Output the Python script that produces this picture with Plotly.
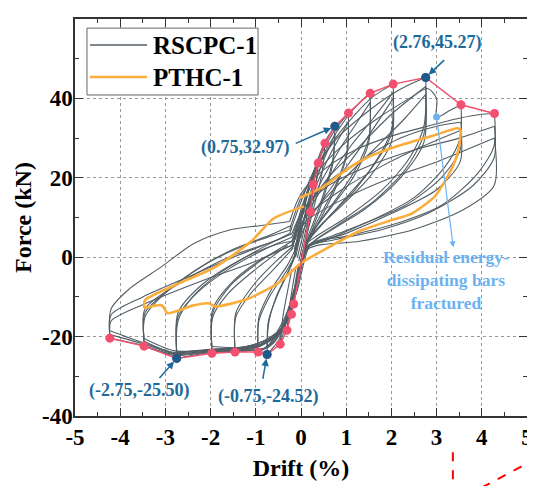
import plotly.graph_objects as go

FONT = "Liberation Serif"

# ---------------- data ----------------
# axis ticks
x_tick_vals = [-5, -4, -3, -2, -1, 0, 1, 2, 3, 4, 5]
x_tick_text = ["-5", "-4", "-3", "-2", "-1", "0", "1", "2", "3", "4", "5"]
y_tick_vals = [-40, -20, 0, 20, 40, 60]
y_tick_text = ["-40", "-20", "0", "20", "40", "60"]

# skeleton (envelope) curve of RSCPC-1
env_x = [-4.23, -3.47, -2.75, -1.97, -1.46, -0.95, -0.75, -0.46, -0.31, -0.21, -0.16,
         0.21, 0.27, 0.38, 0.53, 0.75, 1.05, 1.53, 2.04, 2.76, 3.54, 4.28]
env_y = [-20.4, -22.4, -25.50, -24.2, -23.9, -23.9, -24.52, -21.9, -18.4, -14.4, -11.8,
         11.4, 18.3, 23.7, 28.7, 32.97, 36.3, 41.3, 43.6, 45.27, 38.4, 36.2]

# highlighted characteristic points
key_x = [0.75, 2.76, -2.75, -0.75]
key_y = [32.97, 45.27, -25.50, -24.52]
key_labels = ["(0.75,32.97)", "(2.76,45.27)", "(-2.75,-25.50)", "(-0.75,-24.52)"]

# fracture point of residual energy-dissipating bars
frac_x = [3.0]
frac_y = [35.3]

# PTHC-1 hysteresis loop
pthc_x = [-0.04, 0.5, 1.0, 1.5, 2.2, 2.95, 3.45, 3.54, 3.5, 3.4, 3.2, 2.95, 2.45, 2.0, 1.3,
          0.5, 0.0, -0.5, -1.2, -1.9, -2.05, -2.4, -2.95, -3.08, -3.47, -3.45, -2.7, -1.9,
          -1.1, -0.6, 0.07]
pthc_y = [14.9, 17.8, 22.0, 25.3, 28.2, 30.7, 32.5, 32.2, 28.0, 24.0, 19.5, 15.2, 11.0, 9.3,
          6.6, 1.8, -1.5, -6.5, -10.6, -12.4, -11.6, -12.2, -14.1, -12.1, -12.8, -10.8, -6.6,
          -2.5, 4.0, 9.8, 12.8]

# RSCPC-1 hysteresis cycles (one list pair per cycle)
c01_x = [-0.05, 0.05, 0.14, 0.21, 0.17, 0.08, 0.0, -0.08, -0.16, -0.12, -0.05]
c01_y = [-1, 4, 8.5, 11.4, 8, 3, -1.5, -6.5, -11.8, -8, -2]
c02_x = [-0.08, 0.05, 0.17, 0.27, 0.22, 0.12, 0.02, -0.1, -0.21, -0.16, -0.06]
c02_y = [0, 6, 12.5, 18.3, 13, 6, 0, -7.5, -14.4, -9, -2]
c03_x = [-0.12, 0.02, 0.18, 0.38, 0.32, 0.18, 0.04, -0.12, -0.31, -0.25, -0.12]
c03_y = [0, 7, 15, 23.7, 17, 9, 1, -8, -18.4, -12, -3]
c04_x = [-0.15, 0.0, 0.2, 0.53, 0.46, 0.25, 0.05, -0.15, -0.46, -0.4, -0.2]
c04_y = [1, 9, 18, 28.7, 21, 11, 2, -9, -21.9, -15, -3]
c05_x = [-0.2, 0.0, 0.15, 0.35, 0.55, 0.75, 0.71, 0.5, 0.25, 0.08, -0.1, -0.3, -0.5, -0.75,
         -0.72, -0.55, -0.3, -0.12]
c05_y = [2, 10, 17, 24, 29.5, 32.97, 25, 16, 8, 3, -6, -15, -21, -24.52, -17, -10, -4, 1]
c06_x = [-0.15, 0.02, 0.2, 0.45, 0.75, 0.71, 0.5, 0.25, 0.06, -0.12, -0.35, -0.75, -0.72,
         -0.5, -0.25, -0.1]
c06_y = [1, 8, 15, 23, 31, 24, 15, 7, 2, -7, -15, -23, -16, -9, -3, 1]
c07_x = [-0.15, 0.02, 0.2, 0.45, 0.75, 1.05, 1.02, 0.8, 0.45, 0.15, -0.05, -0.3, -0.6, -0.95,
         -0.93, -0.7, -0.35, -0.15]
c07_y = [0, 10, 18, 26, 32, 36.3, 27, 19, 11, 4, -5, -15, -21.5, -23.9, -16, -10, -4, 0]
c08_x = [-0.12, 0.05, 0.3, 0.65, 1.05, 1.02, 0.75, 0.4, 0.12, -0.08, -0.35, -0.95, -0.93,
         -0.65, -0.3, -0.12]
c08_y = [1, 9, 17, 26, 34, 26, 17, 9, 3, -7, -17, -22.5, -15, -8, -2, 2]
c09_x = [-0.2, 0.0, 0.25, 0.6, 1.0, 1.3, 1.53, 1.5, 1.2, 0.8, 0.35, 0.1, -0.1, -0.35, -0.7,
         -1.1, -1.46, -1.44, -1.1, -0.6, -0.2]
c09_y = [2, 11, 20, 28, 35, 39, 41.3, 30, 22, 15, 8, 3, -7, -17, -22.5, -23.5, -23.9, -15,
         -9, -3, 2]
c10_x = [-0.15, 0.05, 0.4, 0.9, 1.3, 1.53, 1.5, 1.15, 0.7, 0.3, 0.08, -0.12, -0.45, -0.9,
         -1.46, -1.44, -1.05, -0.55, -0.15]
c10_y = [1, 9, 18, 28, 35, 39, 29, 20, 13, 7, 2, -8, -18, -22, -22.8, -14, -7, -1, 3]
c11_x = [-0.2, 0.0, 0.3, 0.7, 1.2, 1.6, 2.04, 2.0, 1.7, 1.2, 0.6, 0.15, -0.1, -0.4, -0.8,
         -1.4, -1.97, -1.95, -1.6, -1.0, -0.3]
c11_y = [3, 12, 21, 29, 36, 40.5, 43.6, 32, 25, 17, 10, 4, -7, -17.5, -22.8, -23.5, -24.2,
         -15, -9, -3, 3]
c12_x = [-0.15, 0.05, 0.5, 1.1, 1.6, 2.04, 2.0, 1.6, 1.0, 0.45, 0.1, -0.12, -0.5, -1.2,
         -1.97, -1.95, -1.55, -0.9, -0.2]
c12_y = [2, 9, 18, 28, 35, 41.5, 31, 23, 15, 8, 3, -8, -19, -22.5, -23.2, -14, -7, -1, 4]
c13_x = [-0.25, 0.0, 0.3, 0.8, 1.4, 2.0, 2.4, 2.76, 2.72, 2.4, 1.8, 1.0, 0.3, 0.1, -0.12,
         -0.4, -0.8, -1.5, -2.2, -2.75, -2.72, -2.4, -1.8, -1.0, -0.25]
c13_y = [6, 14, 22, 30, 36, 41, 43.5, 45.27, 33, 25, 17, 10, 5, 3, -8, -18, -23, -23.6,
         -24.3, -25.5, -16, -10, -4, 1.5, 6]
c14_x = [-0.2, 0.05, 0.6, 1.3, 2.0, 2.76, 2.72, 2.3, 1.6, 0.8, 0.2, -0.1, -0.5, -1.3, -2.1,
         -2.75, -2.72, -2.3, -1.6, -0.8, -0.2]
c14_y = [4, 11, 20, 28, 36, 43, 31, 22, 14, 8, 3, -9, -19, -22.8, -23.4, -24, -15, -9, -3,
         2, 5]
c15_x = [-0.25, 0.0, 0.4, 1.0, 1.7, 2.4, 2.8, 3.0, 3.0, 3.3, 3.54, 3.52, 3.2, 2.5, 1.5, 0.6,
         0.15, -0.12, -0.45, -1.0, -2.0, -2.8, -3.47, -3.45, -3.0, -2.3, -1.5, -0.7, -0.22]
c15_y = [7, 15, 22, 29, 35, 40, 42.5, 40, 35.3, 37, 38.4, 30, 23, 15, 9, 5, 3, -8, -18.5,
         -22.8, -23.8, -24.5, -22.4, -15, -9, -3, 2, 5.5, 8]
c16_x = [-0.2, 0.05, 0.6, 1.4, 2.2, 3.0, 3.54, 3.52, 3.1, 2.3, 1.3, 0.5, 0.12, -0.12, -0.45,
         -1.0, -2.0, -2.8, -3.47, -3.45, -2.9, -2.0, -1.0, -0.2]
c16_y = [5, 12, 19, 25, 30, 33, 34, 27, 20, 13, 8, 4, 2.5, -9, -19, -22.8, -23.6, -24.2,
         -21.2, -14, -8, -1, 4, 7]
c17_x = [-0.25, 0.0, 0.5, 1.2, 2.0, 2.8, 3.5, 4.0, 4.28, 4.27, 3.9, 3.1, 2.2, 1.1, 0.2,
         -0.12, -0.45, -1.0, -2.0, -2.8, -3.5, -4.23, -4.2, -3.8, -3.1, -2.36, -1.6, -0.88,
         -0.25]
c17_y = [9, 16, 22, 27, 30.5, 33, 35, 36, 36.2, 28, 21, 13, 8.8, 5.5, 3, -8, -18.5, -22.5,
         -23.8, -24.8, -22.2, -20.4, -13, -8, -2.5, 3.5, 6.8, 8, 9]
c18_x = [-0.2, 0.05, 0.6, 1.5, 2.5, 3.5, 4.28, 4.27, 3.8, 2.8, 1.8, 0.8, 0.15, -0.12, -0.45,
         -1.0, -2.0, -2.8, -3.5, -4.23, -4.2, -3.5, -2.5, -1.5, -0.6, -0.2]
c18_y = [6, 12, 18, 23, 27, 30, 33, 25, 18, 11, 7, 4.5, 2.5, -8, -18.5, -22.5, -23.5, -24.3,
         -21.8, -19.5, -14.5, -10, -5, 0, 4, 6]
c19_x = [-0.2, 0.1, 1.0, 2.0, 3.0, 4.28, 4.27, 3.6, 2.5, 1.3, 0.15, -0.15, -0.45, -1.0,
         -2.0, -2.8, -3.5, -4.23, -4.2, -3.3, -2.2, -1.0, -0.2]
c19_y = [4, 9, 15, 20, 24, 30, 18, 12, 7, 4, 2, -8, -18, -22, -23.3, -24, -21.5, -18.5,
         -16, -11, -6, -1, 3]
c20_x = [-0.15, 0.1, 0.7, 1.4, 2.04, 2.0, 1.5, 0.9, 0.35, 0.1, -0.12, -0.45, -1.0, -1.97,
         -1.95, -1.5, -0.8, -0.2]
c20_y = [1, 8, 18, 29, 40, 29, 20, 13, 7, 2.5, -8, -18.5, -22.5, -22.5, -13, -6, 0, 3]
c21_x = [-0.2, 0.1, 0.8, 1.6, 2.3, 2.76, 2.72, 2.2, 1.4, 0.7, 0.15, -0.12, -0.45, -1.0,
         -2.0, -2.75, -2.72, -2.2, -1.4, -0.6, -0.2]
c21_y = [3, 9, 18, 27, 35, 41, 29, 20, 12, 7, 2.5, -9, -18.5, -22.5, -23.5, -23.8, -14, -7,
         -1, 3, 4]
c22_x = [-0.2, 0.1, 0.9, 1.8, 2.7, 3.54, 3.52, 3.0, 2.0, 1.0, 0.15, -0.12, -0.45, -1.0,
         -2.0, -2.8, -3.47, -3.45, -2.6, -1.6, -0.6, -0.2]
c22_y = [4, 10, 17, 23, 28, 32, 24, 17, 11, 6, 2.5, -9, -18, -22, -23.2, -23.6, -20.5,
         -13, -6, 0, 4, 6]

cycles = [(c01_x, c01_y), (c02_x, c02_y), (c03_x, c03_y), (c04_x, c04_y), (c05_x, c05_y),
          (c06_x, c06_y), (c07_x, c07_y), (c08_x, c08_y), (c09_x, c09_y), (c10_x, c10_y),
          (c11_x, c11_y), (c12_x, c12_y), (c13_x, c13_y), (c14_x, c14_y), (c15_x, c15_y),
          (c16_x, c16_y), (c17_x, c17_y), (c18_x, c18_y), (c19_x, c19_y), (c20_x, c20_y),
          (c21_x, c21_y), (c22_x, c22_y)]

legend_names = ["RSCPC-1", "PTHC-1"]
GRAY = "#525e65"
ORANGE = "#fbad3c"


def branches(xs, ys):
    """split a cycle at its two peaks so that the spline keeps sharp reversal cusps"""
    imax = xs.index(max(xs))
    imin = xs.index(min(xs))
    cuts = sorted({0, imax, imin, len(xs) - 1})
    return [(xs[a:b + 1], ys[a:b + 1]) for a, b in zip(cuts[:-1], cuts[1:])]


gx, gy = [], []
for xs, ys in cycles:
    for bx, by in branches(xs, ys):
        gx += list(bx) + [None]
        gy += list(by) + [None]

ox, oy = [], []
for bx, by in branches(pthc_x, pthc_y):
    ox += list(bx) + [None]
    oy += list(by) + [None]

fig = go.Figure()
fig.add_trace(go.Scatter(x=gx, y=gy, mode="lines", name=legend_names[0], showlegend=False,
                         line=dict(color=GRAY, width=1.1, shape="spline", smoothing=0.8),
                         connectgaps=False))
fig.add_trace(go.Scatter(x=ox, y=oy, mode="lines", name=legend_names[1], showlegend=False,
                         line=dict(color=ORANGE, width=2.6, shape="spline", smoothing=0.6),
                         connectgaps=False))
fig.add_trace(go.Scatter(x=env_x, y=env_y, mode="lines+markers", showlegend=False,
                         line=dict(color="#f2506e", width=1.5),
                         marker=dict(color="#f2506e", size=9)))
fig.add_trace(go.Scatter(x=key_x, y=key_y, mode="markers", showlegend=False,
                         marker=dict(color="#1b5b8d", size=9)))
fig.add_trace(go.Scatter(x=frac_x, y=frac_y, mode="markers", showlegend=False,
                         marker=dict(color="#6cb2f0", size=7)))

dark = "#1d6a9a"
ann_font = dict(family=FONT, size=18, color=dark, weight="bold")
# text labels of key points: (text x, text y, arrow tail x, tail y)
lab_pos = [(-1.22, 27.7, -0.15, 28.5), (3.03, 54.0, 3.2, 50.0),
           (-3.58, -33.5, -3.16, -30.8), (-0.73, -35.0, -0.85, -31.0)]
for (lx, ly, tx, ty), kx, ky, txt in zip(lab_pos, key_x, key_y, key_labels):
    fig.add_annotation(x=lx, y=ly, text=txt, showarrow=False, font=ann_font)
    fig.add_annotation(x=kx, y=ky, ax=tx, ay=ty, axref="x", ayref="y", text="",
                       showarrow=True, arrowhead=2, arrowsize=1, arrowwidth=1.5,
                       arrowcolor=dark, standoff=4)

light = "#6cb2f0"
fig.add_annotation(x=3.2, y=-5.8, text="Residual energy-<br>dissipating bars<br>fractured",
                   showarrow=False, font=dict(family=FONT, size=17.5, color=light, weight="bold"))
fig.add_annotation(x=3.37, y=2.5, ax=frac_x[0], ay=frac_y[0], axref="x", ayref="y", text="",
                   showarrow=True, arrowhead=2, arrowsize=1, arrowwidth=1.2,
                   arrowcolor=light, standoff=0)

# legend drawn as a framed box (paper coordinates)
fig.add_shape(type="rect", xref="paper", yref="paper", x0=0.0265, x1=0.405, y0=0.8086, y1=0.977,
              line=dict(color="#666", width=1), fillcolor="white", layer="above")
for yy, col, w, name in [(0.9345, GRAY, 1.6, legend_names[0]), (0.8539, ORANGE, 2.6, legend_names[1])]:
    fig.add_shape(type="line", xref="paper", yref="paper", x0=0.0332, x1=0.1593, y0=yy, y1=yy,
                  line=dict(color=col, width=w), layer="above")
    fig.add_annotation(xref="paper", yref="paper", x=0.168, y=yy, xanchor="left", yanchor="middle",
                       text=name, showarrow=False,
                       font=dict(family=FONT, size=25, color="black", weight="bold"))

# red dashed marks outside the plot area
fig.add_shape(type="line", xref="paper", yref="paper", x0=0.836, y0=-0.091, x1=0.836, y1=-0.18,
              line=dict(color="red", width=2, dash="dash"))
fig.add_shape(type="line", xref="paper", yref="paper", x0=0.90, y0=-0.18, x1=1.02, y1=-0.108,
              line=dict(color="red", width=2, dash="dash"))

tick_font = dict(family=FONT, size=23, color="black", weight="bold")
axis_common = dict(ticks="inside", ticklen=8, tickwidth=1.3, tickcolor="#333",
                   mirror="allticks", showline=True, linecolor="#333", linewidth=1.5,
                   showgrid=True, gridcolor="#9a9a9a", griddash="dot", gridwidth=1,
                   zeroline=False, tickfont=tick_font, automargin=False, tickmode="array")
fig.update_xaxes(range=[-5, 5], tickvals=x_tick_vals, ticktext=x_tick_text,
                 minor=dict(dtick=0.5, tick0=0, ticks="inside", ticklen=4, tickcolor="#333",
                            showgrid=False),
                 title=dict(text="Drift (%)", font=dict(family=FONT, size=24, color="black", weight="bold"),
                            standoff=10),
                 **axis_common)
fig.update_yaxes(range=[-40, 60], tickvals=y_tick_vals, ticktext=y_tick_text,
                 minor=dict(dtick=10, tick0=0, ticks="inside", ticklen=4, tickcolor="#333",
                            showgrid=False),
                 title=dict(text="Force (kN)", font=dict(family=FONT, size=24, color="black", weight="bold"),
                            standoff=4),
                 ticklabelstandoff=-4,
                 **axis_common)

# the page body adds an 8 px offset, so the figure is sized to fill the 535x486 window
fig.update_layout(width=527, height=478, margin=dict(l=67, r=8, t=11, b=70),
                  plot_bgcolor="white", paper_bgcolor="white", showlegend=False)

fig.write_html("out.html")
